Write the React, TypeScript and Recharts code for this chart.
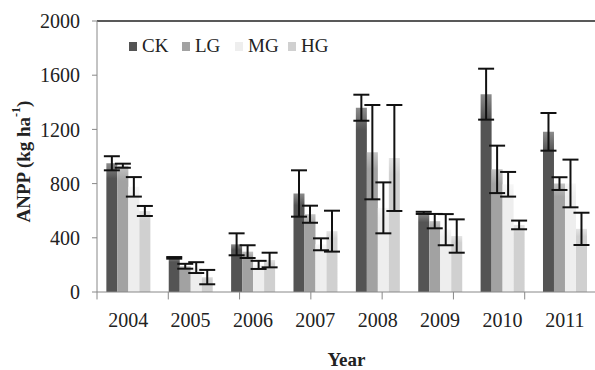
import React from "react";
import {
  BarChart,
  Bar,
  XAxis,
  YAxis,
  ErrorBar,
  ReferenceLine,
  Label,
} from "recharts";

const years = ["2004", "2005", "2006", "2007", "2008", "2009", "2010", "2011"];
const ck = [950, 252, 352, 727, 1360, 584, 1460, 1182];
const ckErr = [52, 6, 81, 171, 96, 8, 188, 139];
const lg = [932, 190, 298, 574, 1032, 523, 905, 800];
const lgErr = [15, 18, 47, 63, 348, 53, 175, 47];
const mg = [776, 180, 200, 352, 621, 460, 795, 801];
const mgErr = [72, 40, 30, 44, 188, 115, 91, 176];
const hg = [598, 110, 236, 449, 989, 413, 495, 466];
const hgErr = [37, 53, 54, 151, 391, 123, 32, 119];
const yTicks = [0, 400, 800, 1200, 1600, 2000];
const edgeTicks = [0, 1, 2, 3, 4, 5, 6, 7, 8];

const series = [
  { key: "CK", values: ck, errs: ckErr, color: "#545454", top: "#8c8c8c" },
  { key: "LG", values: lg, errs: lgErr, color: "#a2a2a2", top: "#c4c4c4" },
  { key: "MG", values: mg, errs: mgErr, color: "#eeeeee", top: "#f7f7f7" },
  { key: "HG", values: hg, errs: hgErr, color: "#d0d0d0", top: "#e4e4e4" },
];

const data = years.map((year, i) => {
  const row: any = { year };
  series.forEach((s) => {
    row[s.key] = s.values[i];
    row[s.key + "err"] = s.errs[i];
  });
  return row;
});

const font = "'Liberation Serif', 'Times New Roman', serif";

const YLabel = (props: any) => {
  const { viewBox } = props;
  const cx = 23;
  const cy = viewBox.y + viewBox.height / 2 + 5;
  return (
    <text
      x={cx}
      y={cy}
      transform={`rotate(-90 ${cx} ${cy})`}
      textAnchor="middle"
      dominantBaseline="central"
      fontFamily={font}
      fontWeight="bold"
      fontSize={19}
      fill="#222"
    >
      ANPP (kg ha<tspan fontSize={12} dy={-7}>-1</tspan>
      <tspan dy={7}>)</tspan>
    </text>
  );
};

export default function App() {
  return (
    <div style={{ position: "absolute", left: 0, top: 0, width: 595, height: 370, background: "#fff" }}>
      <BarChart
        width={596}
        height={370}
        data={data}
        margin={{ top: 21, right: 0, left: 0, bottom: 0 }}
        barCategoryGap="15%"
        barGap={0}
      >
        <defs>
          {series.map((s) => (
            <linearGradient key={s.key} id={"g" + s.key} x1="0" y1="0" x2="0" y2="1">
              <stop offset="0%" stopColor={s.top} />
              <stop offset="12%" stopColor={s.color} />
              <stop offset="100%" stopColor={s.color} />
            </linearGradient>
          ))}
        </defs>
        <XAxis xAxisId="edge" type="number" domain={[0, 8]} allowDataOverflow hide height={0} />
        <XAxis
          xAxisId="year"
          dataKey="year"
          stroke="#888"
          tickLine={false}
          height={78}
          tickMargin={15}
          tick={{ fontFamily: font, fontSize: 20, fill: "#222" }}
        >
          <Label
            value="Year"
            position="insideBottom"
            offset={4}
            style={{ fontFamily: font, fontWeight: "bold", fontSize: 19, fill: "#222" }}
          />
        </XAxis>
        <YAxis
          width={97}
          domain={[0, 2000]}
          allowDataOverflow
          ticks={yTicks}
          interval={0}
          tickSize={5}
          tickMargin={12}
          stroke="#888"
          tick={{ fontFamily: font, fontSize: 20, fill: "#222" }}
          label={<YLabel />}
        />
        <ReferenceLine y={2000} xAxisId="year" stroke="#222" strokeWidth={1.5} />
        {edgeTicks.map((t) => (
          <ReferenceLine
            key={t}
            xAxisId="edge"
            segment={[
              { x: t, y: 0 },
              { x: t, y: -55 },
            ]}
            ifOverflow="visible"
            stroke="#888"
          />
        ))}
        {series.map((s) => (
          <Bar
            key={s.key}
            xAxisId="year"
            dataKey={s.key}
            fill={`url(#g${s.key})`}
            isAnimationActive={false}
          >
            <ErrorBar dataKey={s.key + "err"} width={8} stroke="#111" strokeWidth={2} />
          </Bar>
        ))}
      </BarChart>
      <div
        style={{
          position: "absolute",
          left: 129,
          top: 35,
          display: "flex",
          fontFamily: font,
          fontSize: 19,
          color: "#222",
        }}
      >
        {series.map((s) => (
          <div key={s.key} style={{ display: "flex", alignItems: "center", width: 53 }}>
            <span style={{ display: "inline-block", width: 8, height: 9, background: s.color, marginRight: 5 }} />
            {s.key}
          </div>
        ))}
      </div>
    </div>
  );
}
